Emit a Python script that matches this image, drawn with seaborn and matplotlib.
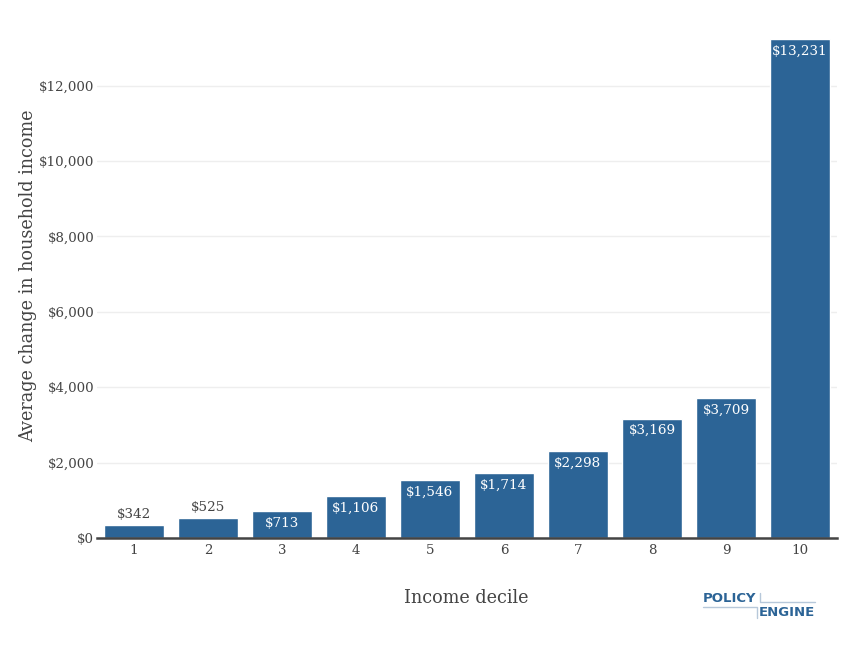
import matplotlib
matplotlib.use("Agg")
import matplotlib.pyplot as plt
import seaborn as sns
import pandas as pd

deciles = [1, 2, 3, 4, 5, 6, 7, 8, 9, 10]
avg_change = [342, 525, 713, 1106, 1546, 1714, 2298, 3169, 3709, 13231]
yticks = [0, 2000, 4000, 6000, 8000, 10000, 12000]

df = pd.DataFrame({"decile": deciles, "change": avg_change})

sns.set_theme(style="white")
plt.rcParams["font.family"] = ["DejaVu Serif"]

bar_color = "#2C6496"
txt_color = "#444444"

W, H = 862, 652
fig = plt.figure(figsize=(W / 100, H / 100), dpi=100)
ax = fig.add_axes([0.1125, 0.1748, 0.8585, 0.8052])

sns.barplot(data=df, x="decile", y="change", color=bar_color, width=0.8,
            saturation=1, ax=ax, zorder=3)

ax.set_ylim(0, 13927)
ax.set_xlim(-0.5, 9.5)
ax.set_yticks(yticks)
ax.set_yticklabels(["${:,}".format(v) for v in yticks])
ax.grid(axis="y", color="#eeeeee", linewidth=1, zorder=0)
ax.tick_params(axis="both", labelsize=9.6, colors=txt_color, length=0)
ax.tick_params(axis="y", pad=2)
ax.tick_params(axis="x", pad=4)

for s in ["top", "right", "left"]:
    ax.spines[s].set_visible(False)
ax.spines["bottom"].set_color(txt_color)
ax.spines["bottom"].set_linewidth(1.8)
ax.spines["bottom"].set_zorder(4)

# bar labels: inside if the bar is tall enough, otherwise above
for i, v in enumerate(avg_change):
    lab = "${:,}".format(v)
    if v > 600:
        ax.annotate(lab, (i, v), xytext=(0, -4), textcoords="offset points",
                    ha="center", va="top", color="white", fontsize=9.7, zorder=5)
    else:
        ax.annotate(lab, (i, v), xytext=(0, 3), textcoords="offset points",
                    ha="center", va="bottom", color=txt_color, fontsize=9.7, zorder=5)

ax.set_xlabel("Income decile", fontsize=12.7, color=txt_color)
ax.set_ylabel("Average change in household income", fontsize=12.7, color=txt_color)
ax.xaxis.set_label_coords((466 - 97) / 740, -(589 - 538) / 525)
ax.yaxis.set_label_coords(-(97 - 37) / 740, 0.5)


def fx(px):
    return px / W


def fy(py):
    return 1 - py / H


# PolicyEngine logo
logo = "#2C6496"
line = "#b7c8da"
fig.text(fx(703), fy(598), "POLICY", fontsize=9.5, fontweight="bold",
         color=logo, family="DejaVu Sans", va="center", ha="left")
fig.text(fx(815), fy(613), "ENGINE", fontsize=9.5, fontweight="bold",
         color=logo, family="DejaVu Sans", va="center", ha="right")
fig.add_artist(plt.Line2D([fx(760), fx(760), fx(815)], [fy(593), fy(602), fy(602)],
                          color=line, linewidth=1))
fig.add_artist(plt.Line2D([fx(703), fx(757), fx(757)], [fy(607), fy(607), fy(618)],
                          color=line, linewidth=1))

fig.savefig("out.png", dpi=100)
